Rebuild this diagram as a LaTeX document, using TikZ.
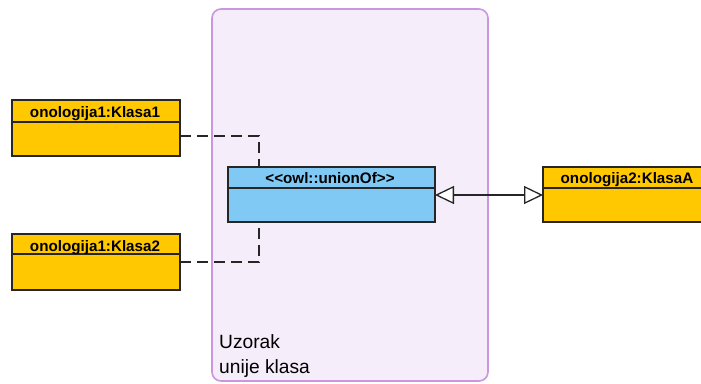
\documentclass[tikz,border=0pt]{standalone}
\usepackage{fontspec}
\setmainfont{Liberation Sans}
\usetikzlibrary{arrows.meta}
\definecolor{klsyellow}{HTML}{FFC800}
\definecolor{unionblue}{HTML}{80C9F4}
\definecolor{grpfill}{HTML}{F5EDFA}
\definecolor{grpline}{HTML}{CC95E0}
\definecolor{edge}{HTML}{262626}
\tikzset{
  classbox/.style={draw=edge, line width=1.2pt},
  hdr/.style={font=\bfseries\fontsize{15.2}{17}\selectfont, anchor=base, inner sep=0pt},
  dep/.style={draw=edge, line width=1.2pt, dash pattern=on 11pt off 6pt},
  gen/.style={draw=edge, line width=1.3pt, {Triangle[open,length=19pt,width=18pt,fill=white]}-{Triangle[open,length=19pt,width=18pt,fill=white]}},
}
\begin{document}
\begin{tikzpicture}[x=1pt,y=-1pt]
\useasboundingbox (0,0) rectangle (701,383);
% group
\draw[grpline, fill=grpfill, line width=1.6pt, rounded corners=9pt] (212,9) rectangle (488,381);
\node[anchor=base west, align=left, inner sep=0pt, font=\fontsize{19.2}{25}\selectfont] (lbl) at (219,373) {Uzorak\\unije klasa};
% Klasa1
\filldraw[classbox, fill=klsyellow] (12,100) rectangle (180,156);
\draw[classbox] (12,122) -- (180,122);
\node[hdr] (k1) at (95,117.5) {onologija1:Klasa1};
\coordinate (k1r) at (180,136);
% Klasa2
\filldraw[classbox, fill=klsyellow] (12,234) rectangle (180,290);
\draw[classbox] (12,254) -- (180,254);
\node[hdr] (k2) at (95,251) {onologija1:Klasa2};
\coordinate (k2r) at (180,262);
% union
\filldraw[classbox, fill=unionblue] (228,167) rectangle (435,222);
\draw[classbox] (228,188) -- (435,188);
\node[hdr] (u) at (330,183.3) {<\kern0pt<owl::unionOf>\kern0pt>};
\coordinate (ut) at (259,167);
\coordinate (ub) at (259,222);
\coordinate (ur) at (435,195);
% KlasaA
\filldraw[classbox, fill=klsyellow] (543,167) rectangle (710,222);
\draw[classbox] (543,188) -- (710,188);
\node[hdr] (ka) at (627,183.3) {onologija2:KlasaA};
\coordinate (kal) at (543,195);
% connectors
\draw[dep] (k1r) -| (ut);
\draw[dep] (k2r) -| (ub);
\draw[gen] (ur) -- (kal);
\end{tikzpicture}
\end{document}
